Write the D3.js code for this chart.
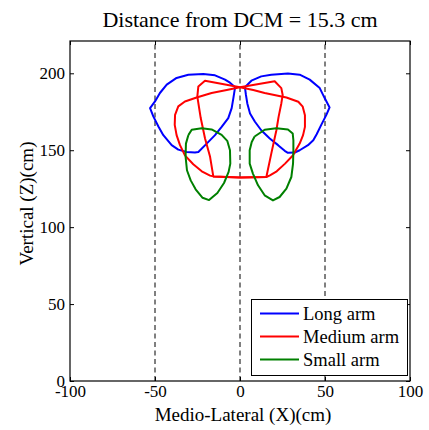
<!DOCTYPE html>
<html><head><meta charset="utf-8">
<script src="https://cdn.jsdelivr.net/npm/d3@7"></script>
<style>body{margin:0;background:#fff}svg{display:block}text{font-family:"Liberation Serif","Times New Roman",serif;fill:#000}</style>
</head><body>
<script>
const title = "Distance from DCM = 15.3 cm";
const xLabel = "Medio-Lateral (X)(cm)";
const yLabel = "Vertical (Z)(cm)";
const xTicks = [-100, -50, 0, 50, 100];
const yTicks = [0, 50, 100, 150, 200];
const refLines = [-50, 0, 50];
const seriesNames = ["Long arm", "Medium arm", "Small arm"];
const seriesColors = ["#0000ff", "#ff0000", "#008000"];

const longLeft = [[-2.9,190.9],[-5.9,193.9],[-8.8,195.9],[-14.7,198.7],[-21.6,199.6],[-30.4,199.1],[-37.3,197.0],[-43.1,192.6],[-47.1,187.2],[-50.0,181.7],[-52.9,177.4],[-51.0,172.0],[-48.0,165.4],[-45.1,159.8],[-40.2,153.3],[-36.3,150.4],[-31.4,148.9],[-26.5,148.5],[-24.5,148.9],[-19.6,154.3],[-14.7,159.8],[-10.8,165.2],[-6.9,170.9],[-4.9,177.4],[-3.9,183.9],[-2.9,190.9]];
const longRight = [[2.9,190.9],[6.7,195.2],[12.5,198.0],[18.4,199.1],[28.2,199.8],[35.1,199.1],[41.0,195.9],[46.9,190.4],[49.8,183.9],[52.7,177.8],[50.8,173.0],[47.8,166.5],[45.1,160.4],[43.1,156.5],[40.0,153.3],[35.1,150.0],[32.2,148.5],[28.2,148.3],[26.3,149.6],[22.4,153.3],[17.5,157.6],[12.5,163.0],[8.8,168.5],[5.9,173.9],[4.3,180.4],[3.5,185.9],[2.9,190.9]];
const mediumLeft = [[0,190.9],[-7.8,189.1],[-16.7,187.2],[-25.5,184.3],[-32.4,181.7],[-36.3,178.5],[-38.2,173.0],[-38.4,166.5],[-37.3,159.8],[-35.3,153.3],[-32.4,146.7],[-27.5,140.9],[-22.5,136.3],[-17.6,133.5],[-15.7,133.0],[0,132.2],[15.5,132.6],[18.4,147.8],[21.4,163.0],[22.7,171.7],[24.3,180.4],[25.1,185.9],[24.3,190.4],[20.4,194.8],[0,190.9]];
const mediumRight = [[0,190.9],[7.8,189.1],[14.5,187.2],[27.3,184.3],[34.3,181.5],[36.9,178.3],[38.2,172.8],[38.2,165.2],[37.1,159.8],[35.1,154.3],[31.2,146.7],[26.5,141.3],[21.6,136.3],[17.6,133.7],[15.5,132.6],[0,132.2],[-15.7,133.0],[-17.6,145.7],[-20.6,157.8],[-23.1,170.9],[-25.1,184.8],[-24.5,191.5],[-20.6,195.2],[0,190.9]];
const smallLeft = [[-30.4,159.8],[-28.4,163.3],[-22.5,164.3],[-16.7,163.5],[-10.8,160.0],[-7.5,156.1],[-5.9,150.0],[-5.7,141.3],[-6.7,135.9],[-9.4,128.7],[-13.3,122.2],[-18.2,117.6],[-22.0,119.1],[-26.1,124.6],[-29.0,130.4],[-31.2,137.0],[-32.0,145.7],[-31.8,154.3],[-30.4,159.8]];
const smallRight = [[8.6,158.9],[14.5,163.3],[21.4,164.3],[28.2,163.5],[31.0,160.9],[31.4,156.5],[31.4,150.0],[31.2,141.3],[30.2,132.6],[27.3,125.0],[23.3,119.6],[19.4,117.4],[14.5,120.7],[10.6,127.2],[7.6,134.8],[5.7,141.3],[5.7,150.0],[6.9,155.4],[8.6,158.9]];

const curves = [
  {s:0, pts:longLeft},{s:0, pts:longRight},
  {s:1, pts:mediumLeft},{s:1, pts:mediumRight},
  {s:2, pts:smallLeft},{s:2, pts:smallRight}
];

const W = 429, H = 430;
const m = {left:70, right:19, top:41, bottom:49};
const svg = d3.select("body").append("svg").attr("width", W).attr("height", H);
const x = d3.scaleLinear().domain([-100, 100]).range([m.left, W - m.right]);
const y = d3.scaleLinear().domain([0, 221]).range([H - m.bottom, m.top]);

svg.append("g").selectAll("line").data(refLines).join("line")
  .attr("x1", d => x(d)).attr("x2", d => x(d))
  .attr("y1", y(0)).attr("y2", y(221))
  .attr("stroke", "#000").attr("stroke-width", 1).attr("stroke-dasharray", "5,3.5");

const line = d3.line().x(d => x(d[0])).y(d => y(d[1]));
svg.append("g").selectAll("path").data(curves).join("path")
  .attr("d", d => line(d.pts)).attr("fill", "none")
  .attr("stroke", d => seriesColors[d.s]).attr("stroke-width", 2)
  .attr("stroke-linejoin", "round");

const fs = 17;
const fmt = d => String(d);
const gx = svg.append("g").attr("transform", `translate(0,${y(0)})`)
  .call(d3.axisBottom(x).tickValues(xTicks).tickSize(-4).tickPadding(4).tickFormat(fmt));
const gxt = svg.append("g").attr("transform", `translate(0,${y(221)})`)
  .call(d3.axisTop(x).tickValues(xTicks).tickSize(-4).tickFormat(""));
const gy = svg.append("g").attr("transform", `translate(${x(-100)},0)`)
  .call(d3.axisLeft(y).tickValues(yTicks).tickSize(-4).tickPadding(5).tickFormat(fmt));
const gyr = svg.append("g").attr("transform", `translate(${x(100)},0)`)
  .call(d3.axisRight(y).tickValues(yTicks).tickSize(-4).tickFormat(""));
[gx, gxt, gy, gyr].forEach(g => {
  g.select(".domain").remove();
  g.selectAll("line").attr("stroke", "#000");
  g.selectAll("text").attr("font-size", fs).attr("font-family", "Liberation Serif");
});
gx.selectAll("text").attr("dy", "0.71em");
svg.append("rect").attr("x", x(-100)).attr("y", y(221)).attr("width", x(100) - x(-100)).attr("height", y(0) - y(221))
  .attr("fill", "none").attr("stroke", "#000").attr("stroke-width", 1.2);

svg.append("text").attr("x", 240).attr("y", 27).attr("text-anchor", "middle").attr("font-size", 22).text(title);
svg.append("text").attr("x", 243).attr("y", 421).attr("text-anchor", "middle").attr("font-size", 19).text(xLabel);
svg.append("text").attr("transform", "translate(33,203.5) rotate(-90)").attr("text-anchor", "middle").attr("font-size", 19).text(yLabel);

const lg = svg.append("g");
lg.append("rect").attr("x", 251.5).attr("y", 299.5).attr("width", 156).attr("height", 76)
  .attr("fill", "#fff").attr("stroke", "#000").attr("stroke-width", 1);
seriesNames.forEach((n, i) => {
  const yy = 313.5 + i * 23;
  lg.append("line").attr("x1", 260).attr("x2", 299).attr("y1", yy).attr("y2", yy)
    .attr("stroke", seriesColors[i]).attr("stroke-width", 2);
  lg.append("text").attr("x", 303).attr("y", yy + 6).attr("font-size", 18.5).text(n);
});
</script>
</body></html>
